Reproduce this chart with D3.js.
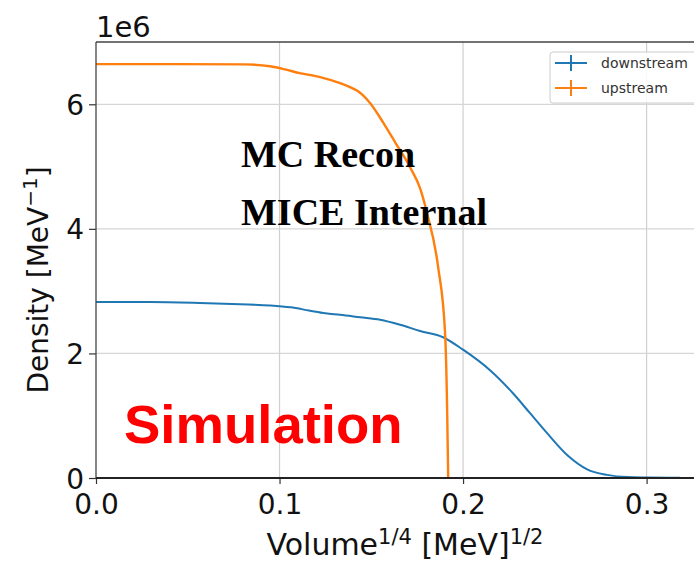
<!DOCTYPE html>
<html>
<head>
<meta charset="utf-8">
<script src="https://cdn.jsdelivr.net/npm/d3@7"></script>
<style>
  html, body { margin: 0; padding: 0; background: #fff; }
  svg { display: block; }
</style>
</head>
<body>
<svg id="chart" width="694" height="563"></svg>
<script>
// Density curves vs. volume^(1/4), upstream and downstream
const downstreamX = [0, 0.0294, 0.0567, 0.0785, 0.0950, 0.1060, 0.1160, 0.1250, 0.133, 0.1439, 0.1548,
  0.1657, 0.1766, 0.1891, 0.2, 0.2147, 0.2272, 0.2365, 0.2458, 0.2567, 0.2676,
  0.2785, 0.2894, 0.3003, 0.3183];
const downstreamY = [2.825, 2.825, 2.81, 2.79, 2.77, 2.74, 2.69, 2.645, 2.62, 2.58, 2.54,
  2.46, 2.36, 2.26, 2.06, 1.73, 1.36, 1.04, 0.72, 0.37, 0.14,
  0.05, 0.015, 0.008, 0.003];

const upstreamX = [0, 0.0450, 0.0812, 0.0948, 0.1030, 0.111, 0.1221, 0.133, 0.1384, 0.1422, 0.1493,
  0.1564, 0.1630, 0.1711, 0.1766, 0.1804, 0.1864, 0.1902, 0.1913, 0.1917, 0.1919];
const upstreamY = [6.645, 6.645, 6.64, 6.61, 6.56, 6.50, 6.437, 6.34, 6.276, 6.22, 6.02,
  5.71, 5.39, 4.99, 4.65, 4.25, 3.39, 2.33, 1.14, 0.4, 0];

const xTicks = [0.0, 0.1, 0.2, 0.3];
const yTicks = [0, 2, 4, 6];
const seriesNames = ["downstream", "upstream"];
const seriesColors = ["#1f77b4", "#ff7f0e"];

const svg = d3.select("#chart");
const plotLeft = 96, plotTop = 42, plotBottom = 478, plotRight = 720;

const x = d3.scaleLinear().domain([0, 0.34]).range([plotLeft, plotRight]);
const y = d3.scaleLinear().domain([0, 7]).range([plotBottom, plotTop]);

svg.append("defs").append("clipPath").attr("id", "plotClip")
  .append("rect").attr("x", plotLeft).attr("y", plotTop)
  .attr("width", plotRight - plotLeft).attr("height", plotBottom - plotTop);

// grid
const grid = svg.append("g");
grid.selectAll("line.vx").data(xTicks.slice(1)).join("line")
  .attr("x1", d => x(d)).attr("x2", d => x(d))
  .attr("y1", plotTop).attr("y2", plotBottom)
  .attr("stroke", "#cfcfcf").attr("stroke-width", 1.2);
grid.selectAll("line.hy").data(yTicks.slice(1)).join("line")
  .attr("x1", plotLeft).attr("x2", plotRight)
  .attr("y1", d => y(d)).attr("y2", d => y(d))
  .attr("stroke", "#d6d6d6").attr("stroke-width", 1.2);

// axes
const xAxis = d3.axisBottom(x).tickValues(xTicks).tickFormat(d3.format(".1f")).tickSize(6).tickPadding(10);
const yAxis = d3.axisLeft(y).tickValues(yTicks).tickFormat(d3.format("d")).tickSize(7).tickPadding(5);

const gx = svg.append("g").attr("transform", `translate(0,${plotBottom})`).call(xAxis);
const gy = svg.append("g").attr("transform", `translate(${plotLeft},0)`).call(yAxis);
[gx, gy].forEach(g => {
  g.select(".domain").remove();
  g.selectAll(".tick line").attr("stroke", "#333").attr("stroke-width", 1.2);
  g.selectAll(".tick text").attr("fill", "#111")
    .style("font-family", "'DejaVu Sans', sans-serif").style("font-size", "28px");
});
gx.selectAll(".tick text").attr("dy", "0.71em");
gy.selectAll(".tick text").attr("dy", "0.36em");

// lines
const plot = svg.append("g").attr("clip-path", "url(#plotClip)");
const dsData = downstreamX.map((v, i) => [v, downstreamY[i]]);
const usData = upstreamX.map((v, i) => [v, upstreamY[i]]);
const curveLine = d3.line().x(d => x(d[0])).y(d => y(d[1])).curve(d3.curveMonotoneX);
plot.append("path")
  .attr("d", curveLine(dsData))
  .attr("fill", "none")
  .attr("stroke", seriesColors[0]).attr("stroke-width", 2);
plot.append("path")
  .attr("d", curveLine(usData))
  .attr("fill", "none")
  .attr("stroke", seriesColors[1]).attr("stroke-width", 2.4);

// spines
svg.append("line").attr("x1", plotLeft).attr("x2", plotRight).attr("y1", plotTop).attr("y2", plotTop)
  .attr("stroke", "#444").attr("stroke-width", 1.3);
svg.append("line").attr("x1", plotLeft).attr("x2", plotLeft).attr("y1", plotTop).attr("y2", plotBottom)
  .attr("stroke", "#444").attr("stroke-width", 1.3);
svg.append("line").attr("x1", plotLeft).attr("x2", plotRight).attr("y1", plotBottom).attr("y2", plotBottom)
  .attr("stroke", "#222").attr("stroke-width", 2);

// offset label
svg.append("text").attr("x", 96).attr("y", 37).text("1e6")
  .attr("fill", "#111").style("font-family", "'DejaVu Sans', sans-serif").style("font-size", "29px");

// axis labels
const xl = svg.append("text").attr("x", 405).attr("y", 555).attr("text-anchor", "middle")
  .attr("fill", "#111").style("font-family", "'DejaVu Sans', sans-serif").style("font-size", "30px");
xl.append("tspan").text("Volume");
xl.append("tspan").attr("dy", -11).style("font-size", "21px").text("1/4");
xl.append("tspan").attr("dy", 11).text(" [MeV]");
xl.append("tspan").attr("dy", -11).style("font-size", "21px").text("1/2");

const yl = svg.append("text").attr("transform", "translate(48,280) rotate(-90)").attr("text-anchor", "middle")
  .attr("fill", "#111").style("font-family", "'DejaVu Sans', sans-serif").style("font-size", "28px");
yl.append("tspan").text("Density [MeV");
yl.append("tspan").attr("dy", -11).style("font-size", "20px").text("−1");
yl.append("tspan").attr("dy", 11).text("]");

// annotations
const ann = svg.append("g").style("font-family", "'Liberation Serif', 'Times New Roman', serif")
  .style("font-weight", "bold").style("font-size", "38px").attr("fill", "#000");
ann.append("text").attr("x", 241).attr("y", 167).text("MC Recon");
ann.append("text").attr("x", 241).attr("y", 225).text("MICE Internal");

svg.append("text").attr("x", 124).attr("y", 443).text("Simulation")
  .attr("fill", "#ff0000").style("font-family", "'Liberation Sans', Arial, sans-serif")
  .style("font-weight", "bold").style("font-size", "54.5px");

// legend
const lg = svg.append("g").attr("transform", "translate(550,52)");
lg.append("rect").attr("x", 0).attr("y", 0).attr("width", 170).attr("height", 51).attr("rx", 3)
  .attr("fill", "#fff").attr("fill-opacity", 0.85).attr("stroke", "#cccccc").attr("stroke-width", 1);
seriesNames.forEach((name, i) => {
  const cy = 11 + i * 25;
  lg.append("line").attr("x1", 5).attr("x2", 37).attr("y1", cy).attr("y2", cy)
    .attr("stroke", seriesColors[i]).attr("stroke-width", 2);
  lg.append("line").attr("x1", 21).attr("x2", 21).attr("y1", cy - 8).attr("y2", cy + 8)
    .attr("stroke", seriesColors[i]).attr("stroke-width", 2);
  lg.append("text").attr("x", 51).attr("y", cy).attr("dy", "0.35em").text(name)
    .attr("fill", "#333").style("font-family", "'DejaVu Sans', sans-serif").style("font-size", "14px");
});
</script>
</body>
</html>
